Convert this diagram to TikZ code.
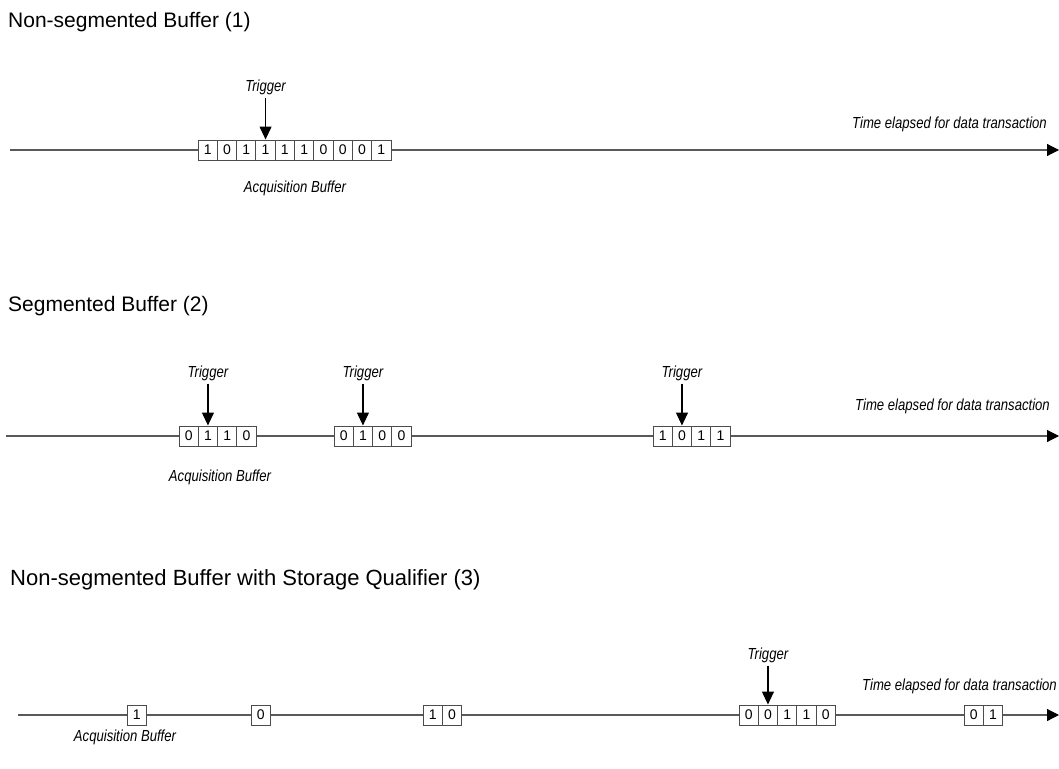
\documentclass[tikz,border=0pt]{standalone}
\usepackage{fontspec}
\setmainfont{Liberation Sans}
\newfontfamily\narrowfont[FakeStretch=0.82]{Liberation Sans}
\usetikzlibrary{arrows.meta,positioning}

\begin{document}
\begin{tikzpicture}[x=1pt,y=-1pt,
  cell/.style={draw=black!70,fill=white,line width=1pt,minimum width=19.3pt,
    minimum height=20pt,inner sep=0pt,font=\fontsize{14}{14}\selectfont},
  ttl/.style={anchor=base west,inner sep=0pt,font=\fontsize{21}{25}\selectfont},
  lbl/.style={inner sep=2pt,font=\fontsize{16}{18}\narrowfont\itshape},
  axis/.style={draw=black!65,line width=1.1pt,-{Triangle[length=12pt,width=12pt,color=black]}},
  trig/.style={line width=1.1pt,-{Triangle[length=13pt,width=12pt]}}]
  \def\cw{19.3}
  \def\buf#1(#2,#3)#4{
    \foreach \d[count=\i] in {#4} {
      \node[cell] (#1-\i) at (#2+\i*\cw-\cw/2,#3) {\d};
    }
  }
  \useasboundingbox (0,0) rectangle (1059,768);

  % (1) non-segmented
  \node[ttl] (title1) at (8,28) {Non-segmented Buffer (1)};
  \coordinate (s1) at (10,150);
  \coordinate (e1) at (1059,150);
  \draw[axis] (s1) -- (e1);
  \buf{p1}(198,150){1,0,1,1,1,1,0,0,0,1}
  \node[lbl,above=42pt of p1-4] (trig1) {Trigger};
  \draw[trig] (trig1) -- (p1-4);
  \node[lbl] (acq1) at (295,188) {Acquisition Buffer};
  \node[lbl,anchor=south east] (time1) at (1049,134) {Time elapsed for data transaction};

  % (2) segmented
  \node[ttl] (title2) at (8,311) {Segmented Buffer (2)};
  \coordinate (s2) at (6,436);
  \coordinate (e2) at (1059,436);
  \draw[axis] (s2) -- (e2);
  \buf{p2a}(179,436){0,1,1,0}
  \buf{p2b}(334,436){0,1,0,0}
  \buf{p2c}(653,436){1,0,1,1}
  \foreach \s in {a,b,c} {
    \node[lbl,above=42pt of p2\s-2] (trig2\s) {Trigger};
    \draw[trig] (trig2\s) -- (p2\s-2);
  }
  \node[lbl] (acq2) at (220,477) {Acquisition Buffer};
  \node[lbl,anchor=south east] (time2) at (1052,416) {Time elapsed for data transaction};

  % (3) storage qualifier
  \node[ttl,font=\fontsize{22}{25}\selectfont] (title3) at (10,585)
    {Non-segmented Buffer with Storage Qualifier (3)};
  \coordinate (s3) at (18,715);
  \coordinate (e3) at (1059,715);
  \draw[axis] (s3) -- (e3);
  \buf{p3a}(127,715){1}
  \buf{p3b}(251,715){0}
  \buf{p3c}(423,715){1,0}
  \buf{p3d}(739,715){0,0,1,1,0}
  \buf{p3e}(964,715){0,1}
  \node[lbl,above=39pt of p3d-2] (trig3) {Trigger};
  \draw[trig] (trig3) -- (p3d-2);
  \node[lbl] (acq3) at (125,737) {Acquisition Buffer};
  \node[lbl,anchor=south east] (time3) at (1059,696) {Time elapsed for data transaction};
\end{tikzpicture}
\end{document}
